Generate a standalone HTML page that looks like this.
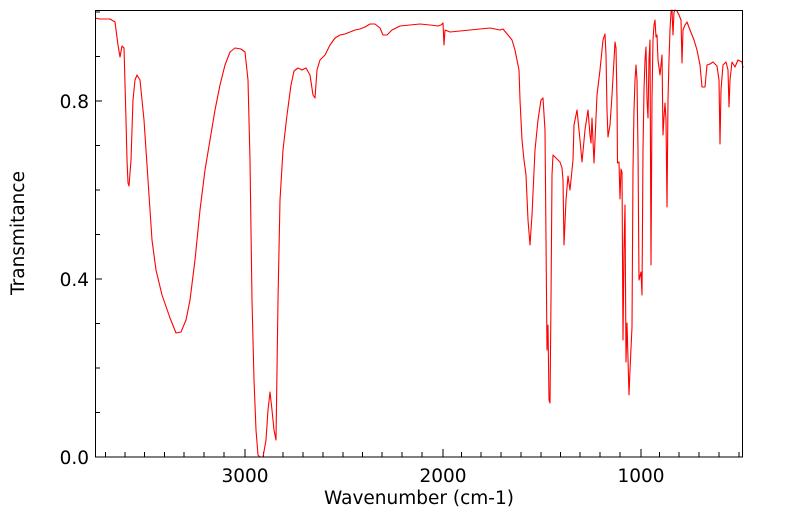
<!DOCTYPE html>
<html><head><meta charset="utf-8"><style>body{margin:0;background:#fff}svg{display:block}</style></head><body>
<svg width="799" height="516" viewBox="0 0 799 516" xmlns="http://www.w3.org/2000/svg" font-family="DejaVu Sans, Liberation Sans, sans-serif">
<rect x="0" y="0" width="799" height="516" fill="#fff"/>
<g stroke="#000" stroke-width="1">
<path d="M105.5,457V452M125,457V452M144.5,457V452M164.5,457V452M184,457V452M204,457V452M224,457V452M245,457V449M263.5,457V452M283,457V452M303,457V452M323,457V452M343,457V452M362.5,457V452M382,457V452M402,457V452M422,457V452M443,457V449M461.5,457V452M481,457V452M501,457V452M521,457V452M541,457V452M560.5,457V452M580,457V452M600,457V452M620,457V452M641,457V449M659.5,457V452M679,457V452M699,457V452M719,457V452M739,457V452"/>
<path d="M95,412.5H100M95,368H100M95,323.5H100M95,279H102M95,234.5H100M95,190H100M95,145.5H100M95,101H102M95,56.5H100M95,12H100"/>
</g>
<polyline fill="none" stroke="#ff0000" stroke-width="1.1" stroke-linejoin="round" points="95,18 100,19 110,19 115,22 118,45 120,57 122,46 124,48 126,120 127,160 128,183 129,186 131,160 133,100 135,80 137,75 140,80 144,120 148,180 152,240 156,270 162,295 170,318 176,333 181,332 186,320 190,300 195,260 200,210 205,170 210,140 215,110 220,85 225,65 230,52 235,48 241,49 245,52 248,80 250,160 252,300 254,380 256,430 258,455 260,457 263,457 266,440 268,410 270,392 272,410 274,430 276,440 278,300 280,200 283,150 287,115 291,85 294,71 298,68 302,70 306,68 310,75 313,95 315,98 317,70 320,60 325,55 330,45 335,38 340,35 345,34 350,32 355,30 360,29 365,27 370,24 375,24 380,28 383,35 387,35 392,30 400,26 410,25 420,24 430,25 438,26 441,25 443,23 444,45 445,30 450,32 460,31 470,30 480,29 490,28 500,30 503,29 508,35 512,40 515,50 517,60 519,70 520,100 522,140 524,160 526,175 528,220 530,245 532,215 535,150 538,120 541,100 543,98 545,130 546,240 547,350 548,325 549,400 550,403 551,300 552,175 553,155 556,158 560,162 562,168 563,180 564,245 566,200 568,176 570,190 573,160 574,125 577,110 580,140 582,162 585,130 588,110 590,135 591,143 592,118 594,163 597,95 600,70 603,40 605,34 606,55 607,110 608,137 610,125 612,95 614,60 615,42 616,48 617,100 617.5,163 619,162 620,199 621,169 622,172 623,340 624,250 625,205 626,362 627,323 629,395 630,370 632,327 633,170 634,110 635,80 636,65 637,80 638,150 639,280 641,272 642,295 643,150 644,90 645,60 646,47 647,100 648,118 649,60 650,40 651,265 652,100 653,40 654,25 655,20 656,37 657,35 658,60 660,75 662,55 663,135 664,117 665,103 666,120 667,207 668,100 669,60 670,30 671,12 672,10 673,35 674,12 675,10 677,11 679,15 681,20 682,63 683,30 685,25 687,22 690,30 694,40 697,50 700,65 702,87 705,87 707,65 710,64 713,62 717,66 719,80 720,144 721,90 723,65 726,62 728,70 729,107 730,80 732,62 735,67 738,60 742,62 743,68"/>
<rect x="95.5" y="10.5" width="647" height="446.5" fill="none" stroke="#000" stroke-width="1"/>
<g font-size="18.5" fill="#000">
<text x="245" y="482" text-anchor="middle">3000</text>
<text x="443" y="482" text-anchor="middle">2000</text>
<text x="641" y="482" text-anchor="middle">1000</text>
<text x="89" y="108" text-anchor="end">0.8</text>
<text x="89" y="286" text-anchor="end">0.4</text>
<text x="89" y="464" text-anchor="end">0.0</text>
<text x="419" y="504" text-anchor="middle">Wavenumber (cm-1)</text>
<text transform="translate(24,233) rotate(-90)" text-anchor="middle">Transmitance</text>
</g>
</svg>
</body></html>
